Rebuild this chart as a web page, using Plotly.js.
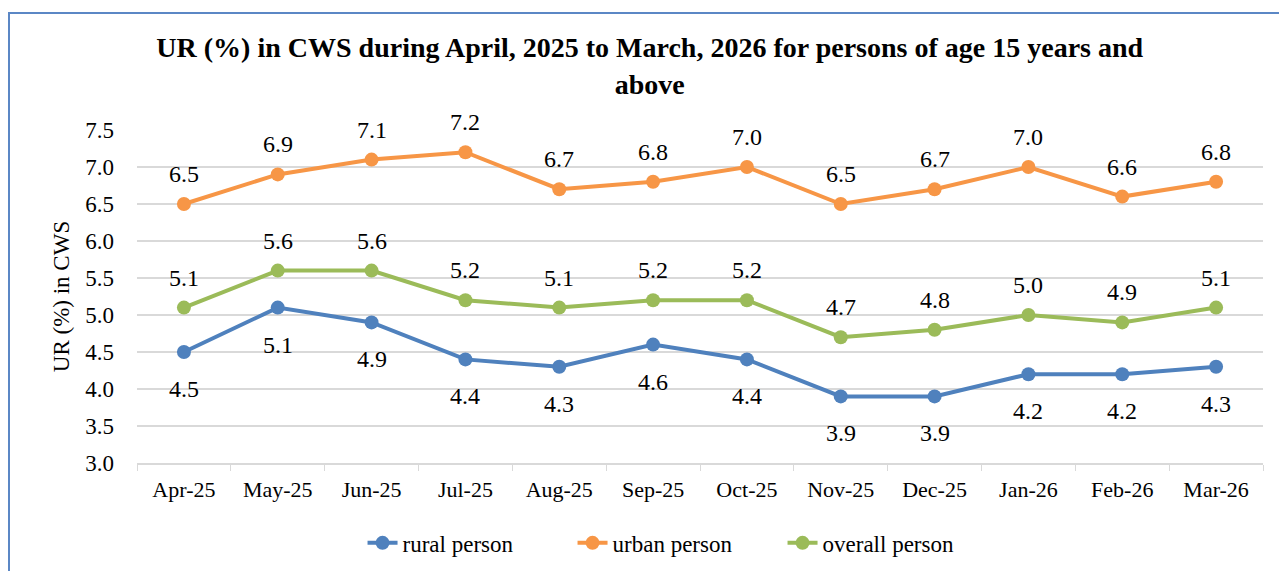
<!DOCTYPE html>
<html>
<head>
<meta charset="utf-8">
<script src="https://cdn.plot.ly/plotly-3.0.1.min.js"></script>
<style>
html,body{margin:0;padding:0;background:#fff;overflow:hidden;}
#wrap{position:relative;width:1279px;height:571px;}
#chart{width:1279px;height:571px;}
#frame{position:absolute;left:8px;top:12px;width:1290px;height:580px;border:2px solid #5B87C5;pointer-events:none;}
</style>
</head>
<body>
<div id="wrap"><div id="chart"></div><div id="frame"></div></div>
<script>
const months = ["Apr-25","May-25","Jun-25","Jul-25","Aug-25","Sep-25","Oct-25","Nov-25","Dec-25","Jan-26","Feb-26","Mar-26"];
const rural = [4.5,5.1,4.9,4.4,4.3,4.6,4.4,3.9,3.9,4.2,4.2,4.3];
const urban = [6.5,6.9,7.1,7.2,6.7,6.8,7.0,6.5,6.7,7.0,6.6,6.8];
const overall = [5.1,5.6,5.6,5.2,5.1,5.2,5.2,4.7,4.8,5.0,4.9,5.1];
const yTicks = [3.0,3.5,4.0,4.5,5.0,5.5,6.0,6.5,7.0,7.5];

const FONT = "Liberation Serif, Times New Roman, serif";
const series = [
  {name:"rural person", y:rural, color:"#4F81BD", shift:-37},
  {name:"urban person", y:urban, color:"#F79646", shift:30},
  {name:"overall person", y:overall, color:"#9BBB59", shift:30}
];

const traces = series.map(s => ({
  type:"scatter", mode:"lines+markers", name:s.name, x:months, y:s.y,
  line:{color:s.color, width:4}, marker:{color:s.color, size:14},
  cliponaxis:false
}));

const annotations = [];
series.forEach(s => {
  s.y.forEach((v,i) => {
    annotations.push({x:months[i], y:v, xref:"x", yref:"y", text:v.toFixed(1),
      showarrow:false, yshift:s.shift, font:{family:FONT, size:24, color:"#000"}});
  });
});

const layout = {
  width:1279, height:571,
  margin:{l:137, r:16, t:130, b:108, autoexpand:false},
  paper_bgcolor:"#fff", plot_bgcolor:"#fff",
  font:{family:FONT, color:"#000"},
  title:{text:"<b>UR (%) in CWS during April, 2025 to March, 2026 for persons of age 15 years and<br>above</b>",
    font:{family:FONT, size:28, color:"#000"}, x:0.508, xanchor:"center", y:0.8993, yanchor:"middle"},
  xaxis:{type:"category", range:[-0.5,11.5], tickson:"boundaries", ticks:"outside", ticklen:6,
    tickcolor:"#D9D9D9", showline:true, linecolor:"#D9D9D9", linewidth:1.5, showgrid:false, tickangle:0,
    tickfont:{family:FONT, size:22, color:"#000"}, ticklabelstandoff:6, zeroline:false, fixedrange:true},
  yaxis:{range:[3,7.5], tickvals:yTicks, ticktext:yTicks.map(v=>v.toFixed(1)), showgrid:true,
    gridcolor:"#D9D9D9", gridwidth:1.5, zeroline:false, showline:false, ticks:"",
    tickfont:{family:FONT, size:23, color:"#000"}, ticklabelstandoff:22,
    title:{text:"UR (%) in CWS", font:{family:FONT, size:23, color:"#000"}, standoff:9}},
  legend:{orientation:"h", x:0.2003, xanchor:"left", y:-0.24, yanchor:"middle",
    font:{family:FONT, size:23, color:"#000"}, itemwidth:30, entrywidth:165, entrywidthmode:"pixels", traceorder:"normal"},
  annotations:annotations,
  showlegend:true
};

Plotly.newPlot("chart", traces, layout, {staticPlot:true, displayModeBar:false});
</script>
</body>
</html>
